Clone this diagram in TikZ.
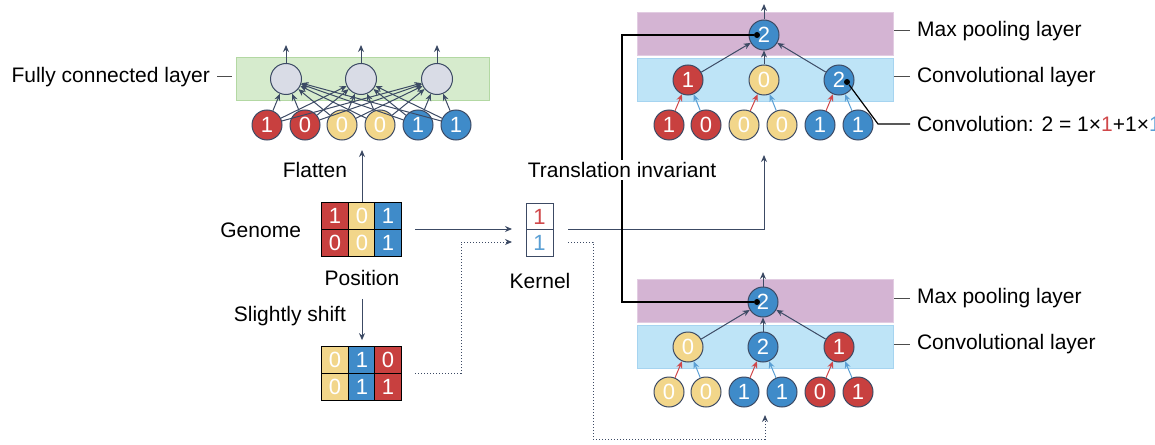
\documentclass[tikz,border=0pt]{standalone}
\usepackage{fontspec}
\setmainfont{Liberation Sans}
\usetikzlibrary{arrows.meta}
\definecolor{gRed}{HTML}{C8403F}
\definecolor{gYellow}{HTML}{F2D68A}
\definecolor{gBlue}{HTML}{3F8BC9}
\definecolor{gGray}{HTML}{D9DCE6}
\definecolor{lineC}{HTML}{3C4A64}
\definecolor{arrRed}{HTML}{D0484A}
\definecolor{arrBlue}{HTML}{5A9FD4}
\definecolor{fcGreen}{HTML}{D6EBCD}
\definecolor{fcBorder}{HTML}{B3D8A3}
\definecolor{poolPurple}{HTML}{D4B4D3}
\definecolor{poolBorder}{HTML}{E2CCE2}
\definecolor{convBlue}{HTML}{BEE4F7}
\definecolor{convBorder}{HTML}{A6D4F0}
\tikzset{
  base/.style={circle, draw=lineC, line width=0.5pt, minimum size=15pt, inner sep=0pt,
    text=white, font=\fontsize{11}{11}\selectfont},
  rednode/.style={base, fill=gRed},
  yelnode/.style={base, fill=gYellow},
  bluenode/.style={base, fill=gBlue},
  fcnode/.style={base, fill=gGray, minimum size=15.5pt},
  cell/.style={draw=black, line width=0.6pt, minimum width=13.25pt, minimum height=13.25pt,
    inner sep=0pt, text=white, font=\fontsize{11}{11}\selectfont},
  kcell/.style={draw=lineC, fill=white, line width=0.5pt, minimum width=13.5pt, minimum height=13.25pt,
    inner sep=0pt, font=\fontsize{11}{11}\selectfont},
  layer/.style={anchor=north west, minimum width=128pt, minimum height=21.5pt, inner sep=0pt, line width=0.6pt},
  lab/.style={font=\fontsize{10.5}{12}\selectfont},
  arr/.style={-{Stealth[length=3.5pt,width=3pt]}, draw=lineC, line width=0.5pt},
  redarr/.style={arr, draw=arrRed, -{Stealth[length=3.5pt,width=3pt,color=arrRed]}},
  bluearr/.style={arr, draw=arrBlue, -{Stealth[length=3.5pt,width=3pt,color=arrBlue]}},
  dotarr/.style={arr, densely dotted},
  tick/.style={draw=black!70, line width=0.5pt},
  dot/.style={circle, fill=black, inner sep=0pt, minimum size=3pt},
}
\begin{document}
\begin{tikzpicture}[x=0.5pt,y=-0.5pt]
  \useasboundingbox (0,0) rectangle (1155,444);

  %%%%% LAYERS %%%%%
  \node[layer, fill=fcGreen, draw=fcBorder, minimum width=126.5pt] (fcl) at (236,57) {};
  \node[layer, fill=poolPurple, draw=poolBorder] (poolA) at (637,12) {};
  \node[layer, fill=convBlue, draw=convBorder] (convA) at (637,58) {};
  \node[layer, fill=poolPurple, draw=poolBorder] (poolB) at (637,279) {};
  \node[layer, fill=convBlue, draw=convBorder] (convB) at (637,325) {};

  %%%%% FULLY CONNECTED %%%%%
  \node[fcnode] (fc1) at (286,79) {};
  \node[fcnode] (fc2) at (361,79) {};
  \node[fcnode] (fc3) at (437,79) {};
  \foreach \x/\v/\s [count=\k] in {267/1/rednode, 305/0/rednode, 342/0/yelnode,
      380/0/yelnode, 418/1/bluenode, 456/1/bluenode}
    \node[\s] (in\k) at (\x,125) {\v};
  \foreach \a in {1,...,6}
    \foreach \b in {1,2,3}
      \draw[arr] (in\a) -- (fc\b);
  \foreach \b/\x in {1/286,2/361,3/437} {
    \coordinate (fcout\b) at (\x,45);
    \draw[arr] (fc\b) -- (fcout\b);
  }
  \node[lab, anchor=east] (fclab) at (217,77) {Fully connected layer};
  \draw[tick, shorten >=2pt] (fclab.east) -- (fclab.east -| fcl.west);

  %%%%% GENOME %%%%%
  \node[cell, fill=gRed]    (g11) at (335,216) {1};
  \node[cell, fill=gYellow] (g12) at (362,216) {0};
  \node[cell, fill=gBlue]   (g13) at (388,216) {1};
  \node[cell, fill=gRed]    (g21) at (335,243) {0};
  \node[cell, fill=gYellow] (g22) at (362,243) {0};
  \node[cell, fill=gBlue]   (g23) at (388,243) {1};
  \node[lab, anchor=east] (genome) at (308,230) {Genome};
  \node[lab] (position) at (362,278) {Position};
  \node[lab] (flatten) at (315,170) {Flatten};
  \coordinate (flatout) at (362,150);
  \draw[arr] (g12.north) -- (flatout);

  \node[cell, fill=gYellow] (s11) at (335,360) {0};
  \node[cell, fill=gBlue]   (s12) at (362,360) {1};
  \node[cell, fill=gRed]    (s13) at (388,360) {0};
  \node[cell, fill=gYellow] (s21) at (335,387) {0};
  \node[cell, fill=gBlue]   (s22) at (362,387) {1};
  \node[cell, fill=gRed]    (s23) at (388,387) {1};
  \node[lab, anchor=east] (shift) at (353,316) {Slightly shift};
  \draw[arr, shorten <=3pt, shorten >=3pt] (position.south) -- (s12.north);

  %%%%% KERNEL %%%%%
  \node[kcell, text=arrRed]  (k1) at (539.5,216.5) {1};
  \node[kcell, text=arrBlue] (k2) at (539.5,243) {1};
  \node[lab] (kernel) at (540,281) {Kernel};
  \coordinate (kin) at (512,229);
  \coordinate (kdin) at (512,242);
  \draw[arr] (415,229) -- (kin);
  \draw[dotarr] (415,373) -- (461,373) -- (461,242) -- (kdin);

  \coordinate (topin) at (764,155);
  \coordinate (botin) at (765,415);
  \draw[arr] (568,229) -- (764,229) -- (topin);
  \draw[dotarr] (568,242) -- (593,242) -- (593,439) -- (765,439) -- (botin);

  %%%%% TOP BLOCK %%%%%
  \node[bluenode] (pa) at (764,35) {2};
  \node[rednode]  (ca1) at (688,80) {1};
  \node[yelnode]  (ca2) at (764,80) {0};
  \node[bluenode] (ca3) at (839,80) {2};
  \foreach \x/\v/\s [count=\k] in {669/1/rednode, 706/0/rednode, 744/0/yelnode,
      782/0/yelnode, 820/1/bluenode, 858/1/bluenode}
    \node[\s] (ia\k) at (\x,125) {\v};
  \draw[redarr]  (ia1) -- (ca1);
  \draw[bluearr] (ia2) -- (ca1);
  \draw[redarr]  (ia3) -- (ca2);
  \draw[bluearr] (ia4) -- (ca2);
  \draw[redarr]  (ia5) -- (ca3);
  \draw[bluearr] (ia6) -- (ca3);
  \foreach \k in {1,2,3}
    \draw[arr] (ca\k) -- (pa);
  \coordinate (paout) at (764,4);
  \draw[arr] (pa) -- (paout);

  %%%%% BOTTOM BLOCK %%%%%
  \node[bluenode] (pb) at (763,302) {2};
  \node[yelnode]  (cb1) at (688,347) {0};
  \node[bluenode] (cb2) at (763,347) {2};
  \node[rednode]  (cb3) at (839,347) {1};
  \foreach \x/\v/\s [count=\k] in {669/0/yelnode, 706/0/yelnode, 744/1/bluenode,
      782/1/bluenode, 820/0/rednode, 858/1/rednode}
    \node[\s] (ib\k) at (\x,392) {\v};
  \draw[redarr]  (ib1) -- (cb1);
  \draw[bluearr] (ib2) -- (cb1);
  \draw[redarr]  (ib3) -- (cb2);
  \draw[bluearr] (ib4) -- (cb2);
  \draw[redarr]  (ib5) -- (cb3);
  \draw[bluearr] (ib6) -- (cb3);
  \foreach \k in {1,2,3}
    \draw[arr] (cb\k) -- (pb);
  \coordinate (pbout) at (763,272);
  \draw[arr] (pb) -- (pbout);

  %%%%% TRANSLATION INVARIANT %%%%%
  \node[dot] (pad) at (757,35) {};
  \node[dot] (pbd) at (757,302) {};
  \draw[black, line width=0.6pt] (pad) -- (622,35) -- (622,302) -- (pbd);
  \node[lab, fill=white, inner sep=1pt] (trans) at (622,170) {Translation invariant};

  %%%%% LABELS %%%%%
  \node[lab, anchor=west] (poolAlab) at (910,31) {Max pooling layer};
  \node[lab, anchor=west] (convAlab) at (910,77) {Convolutional layer};
  \node[lab, anchor=west] (convlab) at (910,124)
    {Convolution: 2 = 1\texttimes\textcolor{arrRed}{1}+1\texttimes\textcolor{arrBlue}{1}};
  \node[lab, anchor=west] (poolBlab) at (910,298) {Max pooling layer};
  \node[lab, anchor=west] (convBlab) at (910,344) {Convolutional layer};
  \draw[tick] (poolAlab.west -| poolA.east) -- (poolAlab.west);
  \draw[tick] (convAlab.west -| convA.east) -- (convAlab.west);
  \draw[tick] (poolBlab.west -| poolB.east) -- (poolBlab.west);
  \draw[tick] (convBlab.west -| convB.east) -- (convBlab.west);
  \node[dot] (ca3d) at (847,82) {};
  \draw[black, line width=0.6pt] (ca3d) -- (878,124) -- (convlab.west);
\end{tikzpicture}
\end{document}
